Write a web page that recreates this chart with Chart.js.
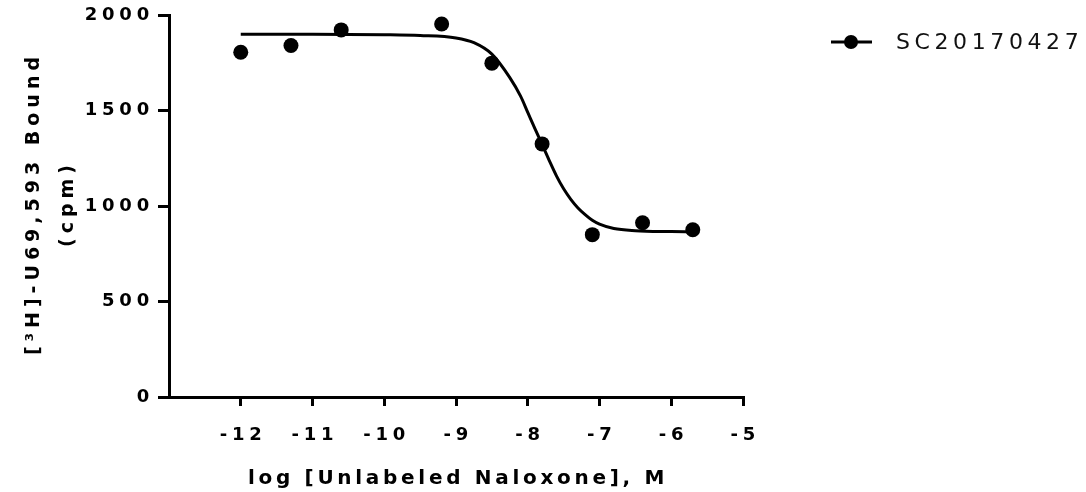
<!DOCTYPE html>
<html>
<head>
<meta charset="utf-8">
<title>SC20170427 naloxone displacement</title>
<script src="https://cdn.jsdelivr.net/npm/chart.js@4.4.0/dist/chart.umd.min.js"></script>
<style>
  html, body { margin: 0; padding: 0; background: #fff; }
  #wrap { width: 1086px; height: 492px; position: relative; }
</style>
</head>
<body>
<div id="wrap"><canvas id="naloxone"></canvas></div>
<script>
// measured points (log M vs cpm)
var seriesName = 'SC20170427';
var logConc = [-12, -11.3, -10.6, -9.2, -8.5, -7.8, -7.1, -6.4, -5.7];
var boundCpm = [1805, 1840, 1922, 1953, 1748, 1325, 850, 912, 876];

// fitted curve
var fitX = [-12, -11, -10, -9.5, -9, -8.75, -8.5, -8.25, -8.1, -8, -7.9, -7.8, -7.7, -7.6, -7.5, -7.4, -7.3, -7.2, -7.1, -7, -6.8, -6.5, -6, -5.7];
var fitY = [1899, 1899, 1897, 1893, 1880, 1855, 1795, 1672, 1575, 1490, 1405, 1322, 1238, 1158, 1090, 1035, 990, 955, 925, 905, 882, 871, 866, 864];

var xTicks = [-12, -11, -10, -9, -8, -7, -6, -5];
var yTicks = [0, 500, 1000, 1500, 2000];
var xTitle = 'log [Unlabeled Naloxone], M';
var yTitle = ['[\u00B3H]-U69,593 Bound', '(cpm)'];

var tickGap = 4.8; // wide letter spacing on tick labels

var spacing = {
    id: 'spacing',
    beforeUpdate: function (chart) { chart.ctx.letterSpacing = tickGap + 'px'; },
    beforeDraw: function (chart) { chart.ctx.letterSpacing = tickGap + 'px'; }
};

// axis titles + legend, drawn by hand so each gets its own spacing
var extras = {
    id: 'extras',
    afterDraw: function (chart) {
        var ctx = chart.ctx, a = chart.chartArea;
        var midY = (a.top + a.bottom) / 2;
        ctx.save();
        ctx.fillStyle = '#000';
        ctx.strokeStyle = '#000';

        // x title
        ctx.font = 'bold 20px "DejaVu Sans"';
        ctx.letterSpacing = '3.7px';
        ctx.textAlign = 'center';
        ctx.textBaseline = 'alphabetic';
        ctx.fillText(xTitle, (a.left + a.right) / 2 + 2, a.bottom + 87);

        // y title, two lines
        ctx.font = 'bold 19px "DejaVu Sans"';
        ctx.letterSpacing = '5px';
        ctx.save();
        ctx.translate(39, midY);
        ctx.rotate(-Math.PI / 2);
        ctx.fillText(yTitle[0], 2.5, 0);
        ctx.restore();
        ctx.save();
        ctx.translate(73, midY);
        ctx.rotate(-Math.PI / 2);
        ctx.fillText(yTitle[1], 2.5, 0);
        ctx.restore();

        // legend
        var ds = chart.data.datasets[0];
        var lx = a.right + 88, ly = a.top + 27;
        ctx.lineWidth = 3;
        ctx.beginPath();
        ctx.moveTo(lx, ly);
        ctx.lineTo(lx + 41, ly);
        ctx.stroke();
        ctx.beginPath();
        ctx.arc(lx + 20, ly, 7, 0, Math.PI * 2);
        ctx.fill();
        ctx.font = '22px "DejaVu Sans"';
        ctx.letterSpacing = '4.6px';
        ctx.textAlign = 'left';
        ctx.textBaseline = 'middle';
        ctx.fillStyle = '#111';
        ctx.fillText(ds.label, lx + 65, ly + 1);
        ctx.restore();
    }
};

var tickFont = { family: 'DejaVu Sans', size: 18, weight: 'bold' };
var plainLabel = function (v) { return String(v); };

var ctxc = document.getElementById('naloxone');
var myChart = new Chart(ctxc, {
    type: 'scatter',
    data: {
        datasets: [
            {
                label: seriesName,
                data: logConc.map(function (x, i) { return { x: x, y: boundCpm[i] }; }),
                showLine: false,
                pointRadius: 7.5,
                pointBorderWidth: 0,
                pointBackgroundColor: '#000',
                borderColor: '#000'
            },
            {
                label: 'fit',
                data: fitX.map(function (x, i) { return { x: x, y: fitY[i] }; }),
                showLine: true,
                borderColor: '#000',
                borderWidth: 3,
                pointRadius: 0,
                cubicInterpolationMode: 'monotone',
                fill: false
            }
        ]
    },
    options: {
        responsive: true,
        maintainAspectRatio: false,
        animation: false,
        layout: { padding: { top: 15, right: 343, bottom: 0, left: 0 } },
        plugins: {
            legend: { display: false },
            tooltip: { enabled: false }
        },
        scales: {
            x: {
                type: 'linear',
                min: -13,
                max: -5,
                afterBuildTicks: function (scale) {
                    scale.ticks = xTicks.map(function (v) { return { value: v }; });
                },
                afterFit: function (scale) { scale.height = 95; },
                ticks: {
                    font: tickFont,
                    color: '#000',
                    padding: 19,
                    labelOffset: tickGap / 2,
                    maxRotation: 0,
                    autoSkip: false,
                    callback: plainLabel
                },
                grid: {
                    drawOnChartArea: false,
                    tickLength: 9,
                    lineWidth: 3,
                    color: '#000'
                },
                border: { color: '#000', width: 3 }
            },
            y: {
                min: 0,
                max: 2000,
                afterBuildTicks: function (scale) {
                    scale.ticks = yTicks.map(function (v) { return { value: v }; });
                },
                afterFit: function (scale) { scale.width = 169; },
                ticks: {
                    font: tickFont,
                    color: '#000',
                    padding: 4,
                    callback: plainLabel
                },
                grid: {
                    drawOnChartArea: false,
                    tickLength: 11,
                    lineWidth: 3,
                    color: '#000'
                },
                border: { color: '#000', width: 3 }
            }
        }
    },
    plugins: [spacing, extras]
});
</script>
</body>
</html>
